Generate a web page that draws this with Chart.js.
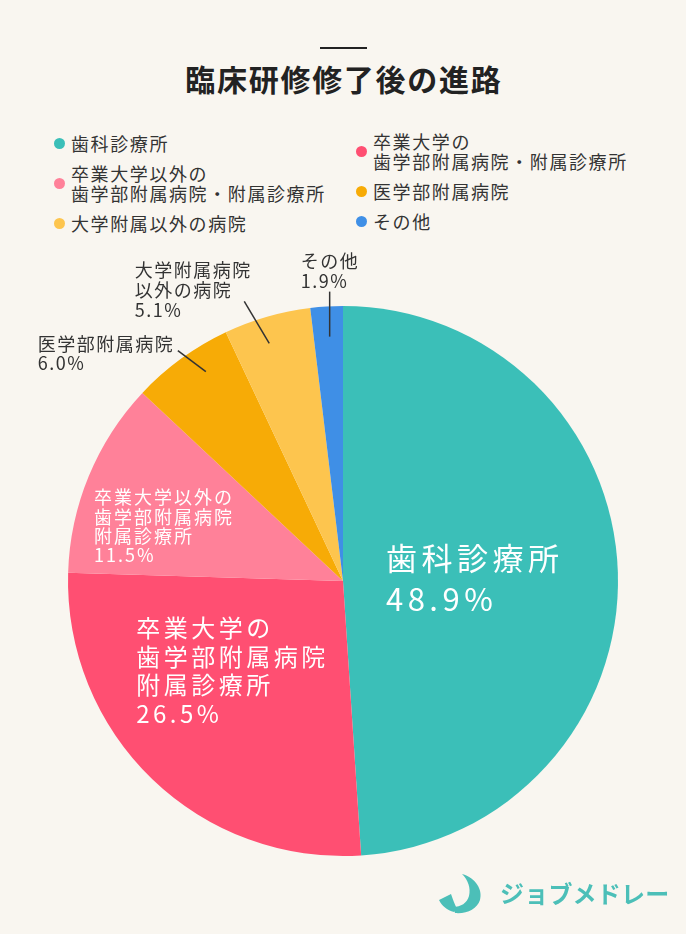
<!DOCTYPE html>
<html lang="ja">
<head>
<meta charset="utf-8">
<script src="https://cdn.jsdelivr.net/npm/chart.js@4/dist/chart.umd.min.js"></script>
<style>
  html, body { margin: 0; padding: 0; }
  body {
    width: 686px; height: 934px; position: relative; overflow: hidden;
    background: #f9f6f0;
    font-family: "Noto Sans CJK JP", "Noto Sans", sans-serif;
    color: #333;
  }
  #chart { position: absolute; left: 0; top: 0; }
  .rule { position: absolute; left: 320px; top: 47px; width: 47px; height: 2px; background: #222; }
  h1 {
    position: absolute; left: 0; width: 686px; top: 58px; margin: 0;
    text-align: center; font-size: 30px; font-weight: 700; color: #222;
    line-height: 40px; letter-spacing: 1.7px; text-indent: 1.7px;
  }
  .legend { position: absolute; display: flex; flex-direction: column; gap: 10px; }
  .legend.left { left: 54px; top: 133px; }
  .legend.right { left: 356px; top: 131px; }
  .item { display: flex; align-items: center; font-size: 18px; line-height: 20px; color: #333; letter-spacing: 1.6px; white-space: nowrap; }
  .dot { width: 11px; height: 11px; border-radius: 50%; margin-right: 6px; flex: none; }
  .logo { position: absolute; left: 436px; top: 870px; width: 250px; height: 46px; }
  .logo svg { position: absolute; left: 0; top: 0; }
  .logo span { position: absolute; left: 64px; top: 6px; font-size: 24px; line-height: 34px; font-weight: 700; color: #4cbfb8; white-space: nowrap; letter-spacing: 0.2px; }
</style>
</head>
<body>
<div class="rule"></div>
<h1>臨床研修修了後の進路</h1>
<div class="legend left" id="legLeft"></div>
<div class="legend right" id="legRight"></div>
<canvas id="chart" width="686" height="934"></canvas>
<div class="logo">
  <svg width="50" height="46" viewBox="0 0 50 46">
    <path d="M26 4 C40 8 47 20 44 30 C41 39 31 44 19 43 L17 37 C25 37 31 33 33 26 C35 18 32 10 26 4 Z" fill="#4cbfb8"/>
    <path d="M3 30 L15 24 C17 30 19 35 21 39 L18 42 C11 40 6 36 3 30 Z" fill="#4cbfb8"/>
  </svg>
  <span>ジョブメドレー</span>
</div>
<script>
// data
const categories = [
  ["歯科診療所"],
  ["卒業大学の", "歯学部附属病院・附属診療所"],
  ["卒業大学以外の", "歯学部附属病院・附属診療所"],
  ["医学部附属病院"],
  ["大学附属以外の病院"],
  ["その他"],
];
const sliceLabels = [
  ["歯科診療所"],
  ["卒業大学の", "歯学部附属病院", "附属診療所"],
  ["卒業大学以外の", "歯学部附属病院", "附属診療所"],
  ["医学部附属病院"],
  ["大学附属病院", "以外の病院"],
  ["その他"],
];
const shares = [48.9, 26.5, 11.5, 6.0, 5.1, 1.9];
const colors = ["#3bbfb8", "#ff4f72", "#ff8199", "#f7ab06", "#fdc54e", "#3f8fe6"];

// label placement: inside labels sit on the slice's mid angle,
// outside labels get a leader line and a text block next to it
const labelStyle = [
  { inside: true, r: 0.46, size: 31, sp: 4.5, lh: 41, color: "#fff", dx: 3, dy: 2 },
  { inside: true, r: 0.52, size: 24, sp: 3.5, lh: 28.5, color: "#fff", dx: -13, dy: -13 },
  { inside: true, r: 0.72, size: 18, sp: 2, lh: 19.3, color: "#fff", dx: 3, dy: 21 },
  { inside: false, r1: 0.91, da: 2.8, ldx: -28, ldy: -21, size: 18, sp: 1.5, lh: 19, anchor: "right", tx: -5, ty: -7 },
  { inside: false, r1: 0.905, da: -1.2, ldx: -25, ldy: -42, size: 18, sp: 1.5, lh: 20, anchor: "right", tx: 6, ty: -31 },
  { inside: false, r1: 0.89, da: 0.3, ldx: 0, ldy: -45, size: 18, sp: 1.5, lh: 20, anchor: "left", tx: -29, ty: -30 },
];

// legend
function buildLegend() {
  const left = document.getElementById("legLeft");
  const right = document.getElementById("legRight");
  categories.forEach((lines, i) => {
    const item = document.createElement("div");
    item.className = "item";
    item.innerHTML = '<div class="dot" style="background:' + colors[i] + '"></div><div>' + lines.join("<br>") + "</div>";
    (i % 2 === 0 ? left : right).appendChild(item);
  });
}
buildLegend();

const sliceLabelPlugin = {
  id: "sliceLabels",
  afterDatasetsDraw(chart) {
    const ctx = chart.ctx;
    const meta = chart.getDatasetMeta(0);
    meta.data.forEach((arc, i) => {
      const p = arc.getProps(["x", "y", "startAngle", "endAngle", "outerRadius"], true);
      const st = labelStyle[i];
      const mid = (p.startAngle + p.endAngle) / 2 + ((st.da || 0) * Math.PI) / 180;
      const lines = sliceLabels[i].concat([shares[i].toFixed(1) + "%"]);
      ctx.save();
      ctx.font = st.size + 'px "Noto Sans CJK JP", sans-serif';
      ctx.letterSpacing = st.sp + "px";
      ctx.textBaseline = "middle";
      ctx.textAlign = "left";
      const w = Math.max(...lines.map((l) => ctx.measureText(l).width - st.sp));
      let x0, y0;
      if (st.inside) {
        const cx = p.x + Math.cos(mid) * p.outerRadius * st.r + (st.dx || 0);
        const cy = p.y + Math.sin(mid) * p.outerRadius * st.r + (st.dy || 0);
        ctx.fillStyle = st.color;
        x0 = cx - w / 2;
        y0 = cy - (st.lh * (lines.length - 1)) / 2;
      } else {
        const ax = p.x + Math.cos(mid) * p.outerRadius * st.r1;
        const ay = p.y + Math.sin(mid) * p.outerRadius * st.r1;
        const bx = ax + st.ldx;
        const by = ay + st.ldy;
        ctx.strokeStyle = "#333";
        ctx.lineWidth = 1.5;
        ctx.beginPath();
        ctx.moveTo(ax, ay);
        ctx.lineTo(bx, by);
        ctx.stroke();
        ctx.fillStyle = "#333";
        x0 = st.anchor === "right" ? bx + st.tx - w : bx + st.tx;
        y0 = by + st.ty;
      }
      lines.forEach((l, k) => ctx.fillText(l, x0, y0 + k * st.lh));
      ctx.restore();
    });
  },
};

new Chart(document.getElementById("chart"), {
  type: "pie",
  data: {
    labels: categories.map((c) => c.join("")),
    datasets: [
      {
        data: shares,
        backgroundColor: colors,
        borderWidth: 0,
      },
    ],
  },
  options: {
    responsive: false,
    animation: false,
    layout: { padding: { left: 68, right: 68, top: 306, bottom: 78 } },
    plugins: {
      legend: { display: false },
      tooltip: { enabled: false },
    },
  },
  plugins: [sliceLabelPlugin],
});
</script>
</body>
</html>
